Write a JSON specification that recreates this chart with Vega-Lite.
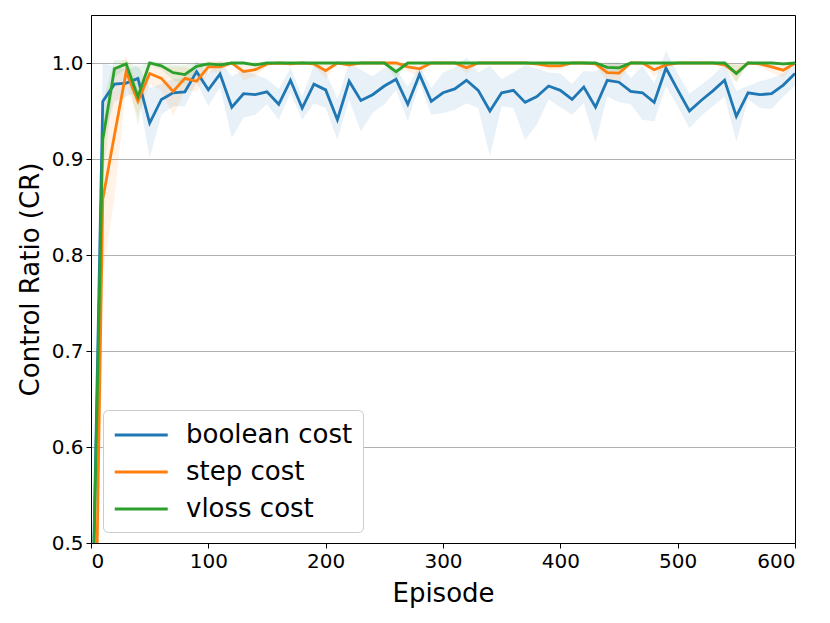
{
  "$schema": "https://vega.github.io/schema/vega-lite/v6.json",
  "autosize": {"type": "none"},
  "padding": {"left": 91, "top": 15, "right": 35, "bottom": 80},
  "width": 704,
  "height": 528,
  "config": {
    "font": "DejaVu Sans",
    "view": {"stroke": "black", "strokeWidth": 1},
    "axis": {"labelFont": "DejaVu Sans", "titleFont": "DejaVu Sans", "labelFontSize": 20, "titleFontSize": 26, "titleFontWeight": "normal", "labelColor": "black", "titleColor": "black", "domainColor": "black", "tickColor": "black", "tickSize": 5, "labelPadding": 3}
  },
  "data": {"values": [
    {"e":0,"s":"boolean cost","m":0.35,"lo":0.30,"hi":0.40},
    {"e":10,"s":"boolean cost","m":0.960,"lo":0.920,"hi":1.000},
    {"e":20,"s":"boolean cost","m":0.978,"lo":0.960,"hi":0.996},
    {"e":30,"s":"boolean cost","m":0.979,"lo":0.965,"hi":0.993},
    {"e":40,"s":"boolean cost","m":0.984,"lo":0.970,"hi":0.998},
    {"e":50,"s":"boolean cost","m":0.9375,"lo":0.901,"hi":0.974},
    {"e":60,"s":"boolean cost","m":0.962,"lo":0.946,"hi":0.978},
    {"e":70,"s":"boolean cost","m":0.969,"lo":0.955,"hi":0.983},
    {"e":80,"s":"boolean cost","m":0.970,"lo":0.955,"hi":0.985},
    {"e":90,"s":"boolean cost","m":0.991,"lo":0.980,"hi":1.002},
    {"e":100,"s":"boolean cost","m":0.972,"lo":0.955,"hi":0.989},
    {"e":110,"s":"boolean cost","m":0.9885,"lo":0.975,"hi":1.002},
    {"e":120,"s":"boolean cost","m":0.954,"lo":0.922,"hi":0.986},
    {"e":130,"s":"boolean cost","m":0.968,"lo":0.943,"hi":0.993},
    {"e":140,"s":"boolean cost","m":0.967,"lo":0.946,"hi":0.988},
    {"e":150,"s":"boolean cost","m":0.970,"lo":0.957,"hi":0.983},
    {"e":160,"s":"boolean cost","m":0.957,"lo":0.941,"hi":0.973},
    {"e":170,"s":"boolean cost","m":0.982,"lo":0.969,"hi":0.995},
    {"e":180,"s":"boolean cost","m":0.953,"lo":0.941,"hi":0.965},
    {"e":190,"s":"boolean cost","m":0.978,"lo":0.958,"hi":0.998},
    {"e":200,"s":"boolean cost","m":0.972,"lo":0.953,"hi":0.991},
    {"e":210,"s":"boolean cost","m":0.941,"lo":0.920,"hi":0.962},
    {"e":220,"s":"boolean cost","m":0.981,"lo":0.962,"hi":1.000},
    {"e":230,"s":"boolean cost","m":0.961,"lo":0.929,"hi":0.993},
    {"e":240,"s":"boolean cost","m":0.967,"lo":0.948,"hi":0.986},
    {"e":250,"s":"boolean cost","m":0.976,"lo":0.957,"hi":0.995},
    {"e":260,"s":"boolean cost","m":0.983,"lo":0.972,"hi":0.994},
    {"e":270,"s":"boolean cost","m":0.957,"lo":0.939,"hi":0.975},
    {"e":280,"s":"boolean cost","m":0.988,"lo":0.979,"hi":0.997},
    {"e":290,"s":"boolean cost","m":0.960,"lo":0.946,"hi":0.974},
    {"e":300,"s":"boolean cost","m":0.969,"lo":0.948,"hi":0.990},
    {"e":310,"s":"boolean cost","m":0.973,"lo":0.951,"hi":0.995},
    {"e":320,"s":"boolean cost","m":0.982,"lo":0.958,"hi":1.006},
    {"e":330,"s":"boolean cost","m":0.9715,"lo":0.953,"hi":0.990},
    {"e":340,"s":"boolean cost","m":0.950,"lo":0.903,"hi":0.997},
    {"e":350,"s":"boolean cost","m":0.969,"lo":0.955,"hi":0.983},
    {"e":360,"s":"boolean cost","m":0.9715,"lo":0.953,"hi":0.990},
    {"e":370,"s":"boolean cost","m":0.959,"lo":0.920,"hi":0.998},
    {"e":380,"s":"boolean cost","m":0.965,"lo":0.936,"hi":0.994},
    {"e":390,"s":"boolean cost","m":0.976,"lo":0.962,"hi":0.990},
    {"e":400,"s":"boolean cost","m":0.9715,"lo":0.954,"hi":0.989},
    {"e":410,"s":"boolean cost","m":0.962,"lo":0.946,"hi":0.978},
    {"e":420,"s":"boolean cost","m":0.975,"lo":0.958,"hi":0.992},
    {"e":430,"s":"boolean cost","m":0.954,"lo":0.917,"hi":0.991},
    {"e":440,"s":"boolean cost","m":0.982,"lo":0.965,"hi":0.999},
    {"e":450,"s":"boolean cost","m":0.980,"lo":0.959,"hi":1.001},
    {"e":460,"s":"boolean cost","m":0.9705,"lo":0.957,"hi":0.984},
    {"e":470,"s":"boolean cost","m":0.969,"lo":0.941,"hi":0.997},
    {"e":480,"s":"boolean cost","m":0.959,"lo":0.939,"hi":0.979},
    {"e":490,"s":"boolean cost","m":0.9948,"lo":0.976,"hi":1.013},
    {"e":500,"s":"boolean cost","m":0.972,"lo":0.955,"hi":0.989},
    {"e":510,"s":"boolean cost","m":0.950,"lo":0.932,"hi":0.968},
    {"e":520,"s":"boolean cost","m":0.961,"lo":0.945,"hi":0.977},
    {"e":530,"s":"boolean cost","m":0.971,"lo":0.955,"hi":0.987},
    {"e":540,"s":"boolean cost","m":0.982,"lo":0.965,"hi":0.999},
    {"e":550,"s":"boolean cost","m":0.9444,"lo":0.918,"hi":0.971},
    {"e":560,"s":"boolean cost","m":0.969,"lo":0.962,"hi":0.976},
    {"e":570,"s":"boolean cost","m":0.967,"lo":0.953,"hi":0.981},
    {"e":580,"s":"boolean cost","m":0.968,"lo":0.952,"hi":0.984},
    {"e":590,"s":"boolean cost","m":0.977,"lo":0.965,"hi":0.989},
    {"e":600,"s":"boolean cost","m":0.989,"lo":0.976,"hi":1.002},

    {"e":0,"s":"step cost","m":0.10,"lo":0.05,"hi":0.15},
    {"e":10,"s":"step cost","m":0.858,"lo":0.780,"hi":0.936},
    {"e":20,"s":"step cost","m":0.925,"lo":0.860,"hi":0.990},
    {"e":30,"s":"step cost","m":0.991,"lo":0.975,"hi":1.007},
    {"e":40,"s":"step cost","m":0.960,"lo":0.945,"hi":0.975},
    {"e":50,"s":"step cost","m":0.989,"lo":0.978,"hi":1.000},
    {"e":60,"s":"step cost","m":0.984,"lo":0.972,"hi":0.996},
    {"e":70,"s":"step cost","m":0.9705,"lo":0.945,"hi":0.996},
    {"e":80,"s":"step cost","m":0.984,"lo":0.972,"hi":0.996},
    {"e":90,"s":"step cost","m":0.981,"lo":0.970,"hi":0.992},
    {"e":100,"s":"step cost","m":0.996,"lo":0.990,"hi":1.002},
    {"e":110,"s":"step cost","m":0.996,"lo":0.990,"hi":1.002},
    {"e":120,"s":"step cost","m":1.0,"lo":1.0,"hi":1.0},
    {"e":130,"s":"step cost","m":0.991,"lo":0.982,"hi":1.0},
    {"e":140,"s":"step cost","m":0.993,"lo":0.986,"hi":1.0},
    {"e":150,"s":"step cost","m":0.999,"lo":0.997,"hi":1.001},
    {"e":160,"s":"step cost","m":1.0,"lo":1.0,"hi":1.0},
    {"e":170,"s":"step cost","m":0.999,"lo":0.997,"hi":1.001},
    {"e":180,"s":"step cost","m":1.0,"lo":1.0,"hi":1.0},
    {"e":190,"s":"step cost","m":0.999,"lo":0.997,"hi":1.001},
    {"e":200,"s":"step cost","m":0.992,"lo":0.984,"hi":1.0},
    {"e":210,"s":"step cost","m":1.0,"lo":1.0,"hi":1.0},
    {"e":220,"s":"step cost","m":0.998,"lo":0.995,"hi":1.001},
    {"e":230,"s":"step cost","m":1.0,"lo":1.0,"hi":1.0},
    {"e":240,"s":"step cost","m":1.0,"lo":1.0,"hi":1.0},
    {"e":250,"s":"step cost","m":1.0,"lo":1.0,"hi":1.0},
    {"e":260,"s":"step cost","m":1.0,"lo":1.0,"hi":1.0},
    {"e":270,"s":"step cost","m":0.996,"lo":0.991,"hi":1.001},
    {"e":280,"s":"step cost","m":0.994,"lo":0.987,"hi":1.001},
    {"e":290,"s":"step cost","m":1.0,"lo":1.0,"hi":1.0},
    {"e":300,"s":"step cost","m":1.0,"lo":1.0,"hi":1.0},
    {"e":310,"s":"step cost","m":1.0,"lo":1.0,"hi":1.0},
    {"e":320,"s":"step cost","m":0.995,"lo":0.989,"hi":1.001},
    {"e":330,"s":"step cost","m":1.0,"lo":1.0,"hi":1.0},
    {"e":340,"s":"step cost","m":1.0,"lo":1.0,"hi":1.0},
    {"e":350,"s":"step cost","m":1.0,"lo":1.0,"hi":1.0},
    {"e":360,"s":"step cost","m":1.0,"lo":1.0,"hi":1.0},
    {"e":370,"s":"step cost","m":1.0,"lo":1.0,"hi":1.0},
    {"e":380,"s":"step cost","m":0.999,"lo":0.997,"hi":1.001},
    {"e":390,"s":"step cost","m":0.997,"lo":0.993,"hi":1.001},
    {"e":400,"s":"step cost","m":0.997,"lo":0.993,"hi":1.001},
    {"e":410,"s":"step cost","m":1.0,"lo":1.0,"hi":1.0},
    {"e":420,"s":"step cost","m":1.0,"lo":1.0,"hi":1.0},
    {"e":430,"s":"step cost","m":0.999,"lo":0.997,"hi":1.001},
    {"e":440,"s":"step cost","m":0.990,"lo":0.981,"hi":0.999},
    {"e":450,"s":"step cost","m":0.9895,"lo":0.980,"hi":0.999},
    {"e":460,"s":"step cost","m":1.0,"lo":1.0,"hi":1.0},
    {"e":470,"s":"step cost","m":1.0,"lo":1.0,"hi":1.0},
    {"e":480,"s":"step cost","m":0.993,"lo":0.986,"hi":1.0},
    {"e":490,"s":"step cost","m":0.998,"lo":0.995,"hi":1.001},
    {"e":500,"s":"step cost","m":1.0,"lo":1.0,"hi":1.0},
    {"e":510,"s":"step cost","m":1.0,"lo":1.0,"hi":1.0},
    {"e":520,"s":"step cost","m":1.0,"lo":1.0,"hi":1.0},
    {"e":530,"s":"step cost","m":1.0,"lo":1.0,"hi":1.0},
    {"e":540,"s":"step cost","m":0.998,"lo":0.995,"hi":1.001},
    {"e":550,"s":"step cost","m":0.9895,"lo":0.980,"hi":0.999},
    {"e":560,"s":"step cost","m":1.0,"lo":1.0,"hi":1.0},
    {"e":570,"s":"step cost","m":0.999,"lo":0.997,"hi":1.001},
    {"e":580,"s":"step cost","m":0.996,"lo":0.990,"hi":1.002},
    {"e":590,"s":"step cost","m":0.9925,"lo":0.985,"hi":1.0},
    {"e":600,"s":"step cost","m":1.0,"lo":1.0,"hi":1.0},

    {"e":0,"s":"vloss cost","m":0.35,"lo":0.30,"hi":0.40},
    {"e":10,"s":"vloss cost","m":0.920,"lo":0.880,"hi":0.960},
    {"e":20,"s":"vloss cost","m":0.994,"lo":0.985,"hi":1.003},
    {"e":30,"s":"vloss cost","m":0.999,"lo":0.995,"hi":1.003},
    {"e":40,"s":"vloss cost","m":0.965,"lo":0.935,"hi":0.995},
    {"e":50,"s":"vloss cost","m":1.0,"lo":0.998,"hi":1.002},
    {"e":60,"s":"vloss cost","m":0.997,"lo":0.993,"hi":1.001},
    {"e":70,"s":"vloss cost","m":0.990,"lo":0.982,"hi":0.998},
    {"e":80,"s":"vloss cost","m":0.988,"lo":0.978,"hi":0.998},
    {"e":90,"s":"vloss cost","m":0.9965,"lo":0.993,"hi":1.0},
    {"e":100,"s":"vloss cost","m":0.999,"lo":0.997,"hi":1.001},
    {"e":110,"s":"vloss cost","m":0.998,"lo":0.995,"hi":1.001},
    {"e":120,"s":"vloss cost","m":1.0,"lo":1.0,"hi":1.0},
    {"e":130,"s":"vloss cost","m":1.0,"lo":1.0,"hi":1.0},
    {"e":140,"s":"vloss cost","m":0.998,"lo":0.995,"hi":1.001},
    {"e":150,"s":"vloss cost","m":1.0,"lo":1.0,"hi":1.0},
    {"e":160,"s":"vloss cost","m":1.0,"lo":1.0,"hi":1.0},
    {"e":170,"s":"vloss cost","m":1.0,"lo":1.0,"hi":1.0},
    {"e":180,"s":"vloss cost","m":1.0,"lo":1.0,"hi":1.0},
    {"e":190,"s":"vloss cost","m":1.0,"lo":1.0,"hi":1.0},
    {"e":200,"s":"vloss cost","m":1.0,"lo":1.0,"hi":1.0},
    {"e":210,"s":"vloss cost","m":1.0,"lo":1.0,"hi":1.0},
    {"e":220,"s":"vloss cost","m":1.0,"lo":1.0,"hi":1.0},
    {"e":230,"s":"vloss cost","m":1.0,"lo":1.0,"hi":1.0},
    {"e":240,"s":"vloss cost","m":1.0,"lo":1.0,"hi":1.0},
    {"e":250,"s":"vloss cost","m":1.0,"lo":1.0,"hi":1.0},
    {"e":260,"s":"vloss cost","m":0.991,"lo":0.983,"hi":0.999},
    {"e":270,"s":"vloss cost","m":1.0,"lo":1.0,"hi":1.0},
    {"e":280,"s":"vloss cost","m":1.0,"lo":1.0,"hi":1.0},
    {"e":290,"s":"vloss cost","m":1.0,"lo":1.0,"hi":1.0},
    {"e":300,"s":"vloss cost","m":1.0,"lo":1.0,"hi":1.0},
    {"e":310,"s":"vloss cost","m":1.0,"lo":1.0,"hi":1.0},
    {"e":320,"s":"vloss cost","m":1.0,"lo":1.0,"hi":1.0},
    {"e":330,"s":"vloss cost","m":1.0,"lo":1.0,"hi":1.0},
    {"e":340,"s":"vloss cost","m":1.0,"lo":1.0,"hi":1.0},
    {"e":350,"s":"vloss cost","m":1.0,"lo":1.0,"hi":1.0},
    {"e":360,"s":"vloss cost","m":1.0,"lo":1.0,"hi":1.0},
    {"e":370,"s":"vloss cost","m":1.0,"lo":1.0,"hi":1.0},
    {"e":380,"s":"vloss cost","m":1.0,"lo":1.0,"hi":1.0},
    {"e":390,"s":"vloss cost","m":1.0,"lo":1.0,"hi":1.0},
    {"e":400,"s":"vloss cost","m":1.0,"lo":1.0,"hi":1.0},
    {"e":410,"s":"vloss cost","m":1.0,"lo":1.0,"hi":1.0},
    {"e":420,"s":"vloss cost","m":1.0,"lo":1.0,"hi":1.0},
    {"e":430,"s":"vloss cost","m":1.0,"lo":1.0,"hi":1.0},
    {"e":440,"s":"vloss cost","m":0.9955,"lo":0.990,"hi":1.001},
    {"e":450,"s":"vloss cost","m":0.995,"lo":0.990,"hi":1.0},
    {"e":460,"s":"vloss cost","m":1.0,"lo":1.0,"hi":1.0},
    {"e":470,"s":"vloss cost","m":1.0,"lo":1.0,"hi":1.0},
    {"e":480,"s":"vloss cost","m":1.0,"lo":1.0,"hi":1.0},
    {"e":490,"s":"vloss cost","m":1.0,"lo":1.0,"hi":1.0},
    {"e":500,"s":"vloss cost","m":1.0,"lo":1.0,"hi":1.0},
    {"e":510,"s":"vloss cost","m":1.0,"lo":1.0,"hi":1.0},
    {"e":520,"s":"vloss cost","m":1.0,"lo":1.0,"hi":1.0},
    {"e":530,"s":"vloss cost","m":1.0,"lo":1.0,"hi":1.0},
    {"e":540,"s":"vloss cost","m":1.0,"lo":1.0,"hi":1.0},
    {"e":550,"s":"vloss cost","m":0.989,"lo":0.980,"hi":0.998},
    {"e":560,"s":"vloss cost","m":1.0,"lo":1.0,"hi":1.0},
    {"e":570,"s":"vloss cost","m":1.0,"lo":1.0,"hi":1.0},
    {"e":580,"s":"vloss cost","m":1.0,"lo":1.0,"hi":1.0},
    {"e":590,"s":"vloss cost","m":0.999,"lo":0.997,"hi":1.001},
    {"e":600,"s":"vloss cost","m":1.0,"lo":1.0,"hi":1.0}
  ]},
  "encoding": {
    "x": {"field": "e", "type": "quantitative", "title": "Episode",
      "scale": {"domain": [0, 600], "nice": false, "zero": false},
      "axis": {"values": [0, 100, 200, 300, 400, 500, 600], "grid": false, "titlePadding": 9}}
  },
  "layer": [
    {
      "transform": [{"filter": "datum.s === 'boolean cost'"}],
      "mark": {"type": "area", "opacity": 0.1, "clip": true, "color": "#1f77b4"},
      "encoding": {"y": {"field": "lo", "type": "quantitative"}, "y2": {"field": "hi"}}
    },
    {
      "transform": [{"filter": "datum.s === 'step cost'"}],
      "mark": {"type": "area", "opacity": 0.1, "clip": true, "color": "#ff7f0e"},
      "encoding": {"y": {"field": "lo", "type": "quantitative"}, "y2": {"field": "hi"}}
    },
    {
      "transform": [{"filter": "datum.s === 'vloss cost'"}],
      "mark": {"type": "area", "opacity": 0.1, "clip": true, "color": "#2ca02c"},
      "encoding": {"y": {"field": "lo", "type": "quantitative"}, "y2": {"field": "hi"}}
    },
    {
      "mark": {"type": "line", "strokeWidth": 2.8, "clip": true},
      "encoding": {
        "y": {"field": "m", "type": "quantitative", "title": "Control Ratio (CR)",
          "scale": {"domain": [0.5, 1.05], "nice": false, "zero": false},
          "axis": {"values": [0.5, 0.6, 0.7, 0.8, 0.9, 1.0], "format": ".1f", "grid": true, "gridColor": "#b0b0b0", "gridWidth": 1, "titlePadding": 8}},
        "color": {"field": "s", "type": "nominal",
          "scale": {"domain": ["boolean cost", "step cost", "vloss cost"], "range": ["#1f77b4", "#ff7f0e", "#2ca02c"]},
          "legend": {"title": null, "orient": "none", "legendX": 12, "legendY": 395,
            "symbolType": "M-1,0H3", "symbolSize": 702, "symbolStrokeWidth": 2.8, "symbolFillColor": "transparent",
            "labelFontSize": 26, "labelFont": "DejaVu Sans", "labelColor": "black", "labelOffset": 43, "labelLimit": 400,
            "rowPadding": 9, "padding": 10, "strokeColor": "#cccccc", "fillColor": "white", "cornerRadius": 5}}
      }
    }
  ]
}
